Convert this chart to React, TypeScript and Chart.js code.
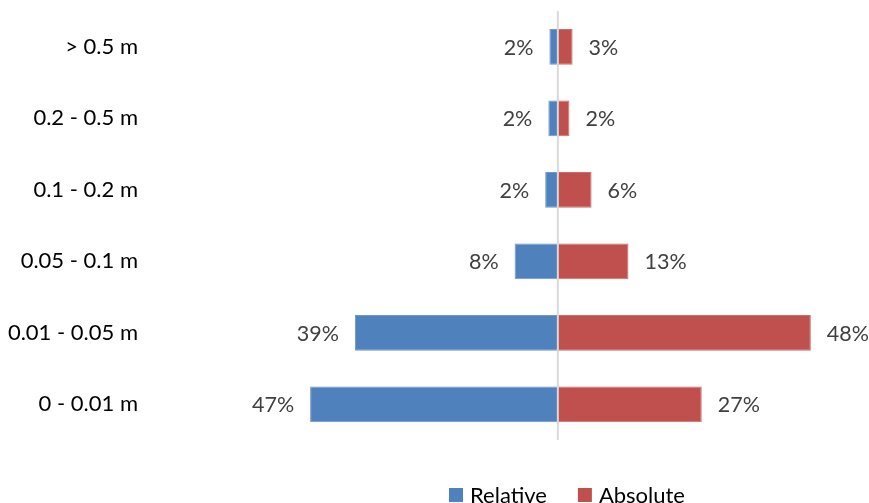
import React, { useEffect, useRef } from "react";
import { Chart, registerables } from "chart.js";

Chart.register(...registerables);

const categories = ["> 0.5 m", "0.2 - 0.5 m", "0.1 - 0.2 m", "0.05 - 0.1 m", "0.01 - 0.05 m", "0 - 0.01 m"];
const relativeValues = [1.6, 1.8, 2.4, 8.2, 38.5, 47.0];
const absoluteValues = [2.8, 2.2, 6.4, 13.4, 48.0, 27.3];
const seriesNames = ["Relative", "Absolute"];
const seriesColors = ["#4F81BD", "#C0504D"];
const seriesBorders = ["#6E96C9", "#CB6E6B"];

const FONT = "Lato, 'Open Sans', sans-serif";

const labelPlugin = {
  id: "butterflyLabels",
  afterDatasetsDraw(chart: any) {
    const { ctx, chartArea, scales } = chart;
    const x0 = scales.x.getPixelForValue(0);
    ctx.save();
    ctx.strokeStyle = "#D9D9D9";
    ctx.lineWidth = 2;
    ctx.beginPath();
    ctx.moveTo(x0, chartArea.top);
    ctx.lineTo(x0, chartArea.bottom);
    ctx.stroke();

    ctx.font = `21.5px ${FONT}`;
    ctx.fillStyle = "#404040";
    ctx.textBaseline = "middle";
    chart.data.datasets.forEach((ds: any, di: number) => {
      const meta = chart.getDatasetMeta(di);
      meta.data.forEach((el: any, i: number) => {
        const v = ds.data[i];
        const txt = `${Math.round(Math.abs(v))}%`;
        if (v < 0) {
          ctx.textAlign = "right";
          ctx.fillText(txt, el.x - 16, el.y + 1);
        } else {
          ctx.textAlign = "left";
          ctx.fillText(txt, el.x + 16, el.y + 1);
        }
      });
    });
    ctx.restore();
  },
  afterDraw(chart: any) {
    const { ctx } = chart;
    ctx.save();
    ctx.font = `22px ${FONT}`;
    ctx.textBaseline = "alphabetic";
    ctx.textAlign = "left";
    let x = 441;
    const boxTop = 480;
    chart.data.datasets.forEach((ds: any) => {
      ctx.fillStyle = ds.backgroundColor;
      ctx.fillRect(x, boxTop, 14, 14);
      ctx.fillStyle = "#000000";
      ctx.fillText(ds.label, x + 21, 495);
      x += 21 + ctx.measureText(ds.label).width + 31;
    });
    ctx.restore();
  },
};

export default function App() {
  const canvasRef = useRef<HTMLCanvasElement | null>(null);

  useEffect(() => {
    document.documentElement.style.overflow = "hidden";
    const canvas = canvasRef.current;
    if (!canvas) return;
    const chart = new Chart(canvas, {
      type: "bar",
      data: {
        labels: categories,
        datasets: [
          {
            label: seriesNames[0],
            data: relativeValues.map((v) => -v),
            backgroundColor: seriesColors[0],
            borderColor: seriesBorders[0],
            borderWidth: 1,
          },
          {
            label: seriesNames[1],
            data: absoluteValues,
            backgroundColor: seriesColors[1],
            borderColor: seriesBorders[1],
            borderWidth: 1,
          },
        ],
      },
      options: {
        indexAxis: "y",
        responsive: false,
        animation: false,
        datasets: { bar: { categoryPercentage: 1, barPercentage: 0.5 } },
        layout: { padding: { top: 3, right: 16, bottom: 63, left: 0 } },
        plugins: {
          legend: { display: false },
          tooltip: { enabled: false },
        },
        scales: {
          x: {
            display: false,
            stacked: true,
            min: -77,
            max: 56,
          },
          y: {
            stacked: true,
            grid: { display: false, drawTicks: false },
            border: { display: false },
            ticks: {
              padding: 14,
              color: "#000000",
              font: { family: FONT, size: 22 },
            },
            afterFit: (scale: any) => {
              scale.width = 144;
              scale.paddingTop = 0;
              scale.paddingBottom = 0;
            },
          },
        },
      },
      plugins: [labelPlugin],
    } as any);
    return () => chart.destroy();
  }, []);

  return (
    <div style={{ position: "absolute", left: 8, top: 8, width: 861, height: 495 }}>
      <canvas ref={canvasRef} width={861} height={495} style={{ display: "block", width: 861, height: 495 }} />
    </div>
  );
}
